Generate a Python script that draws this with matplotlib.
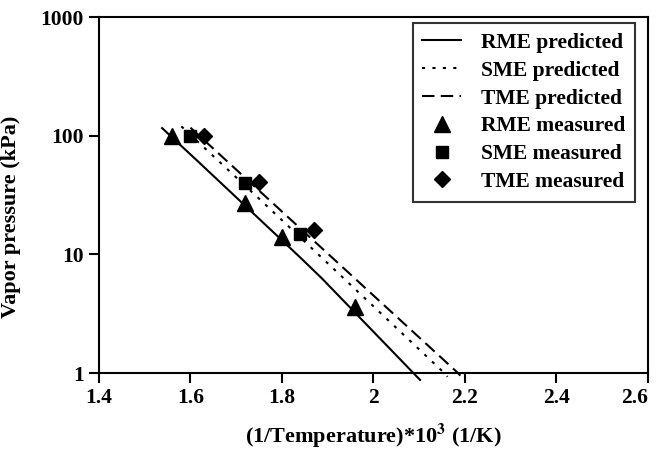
import matplotlib
matplotlib.use("Agg")
import matplotlib.pyplot as plt

plt.rcParams['font.family'] = ['Liberation Serif', 'DejaVu Serif']
plt.rcParams['font.weight'] = 'bold'
plt.rcParams['mathtext.fontset'] = 'stix'

# predicted curves
rme_px = [1.538, 1.614, 1.839, 1.887, 2.102]
rme_py = [116, 62, 9.5, 6.3, 0.875]
sme_px = [1.58, 1.758, 2.155, 2.162]
sme_py = [120, 27.6, 1.0, 0.93]
tme_px = [1.60, 1.702, 2.185, 2.19]
tme_py = [117, 51, 1.0, 0.95]

# measured points
rme_mx = [1.56, 1.72, 1.80, 1.96]
rme_my = [100, 27, 14, 3.6]
sme_mx = [1.60, 1.72, 1.84]
sme_my = [100, 40, 15]
tme_mx = [1.63, 1.75, 1.87]
tme_my = [100, 41, 16]

fig = plt.figure(figsize=(6.57, 4.5), dpi=100)
ax = fig.add_axes([0.1507, 0.171, 0.8353, 0.791])

ax.plot(rme_px, rme_py, color='black', lw=1.5, ls='-', label='RME predicted', clip_on=False)
ax.plot(sme_px, sme_py, color='black', lw=1.5, ls=(0, (1.5, 3.5)), label='SME predicted', clip_on=False)
ax.plot(tme_px, tme_py, color='black', lw=1.5, ls=(0, (6, 3)), label='TME predicted', clip_on=False)
ax.plot(rme_mx, rme_my, 'k^', ms=11, ls='none', label='RME measured')
ax.plot(sme_mx, sme_my, 'ks', ms=8.5, ls='none', label='SME measured')
ax.plot(tme_mx, tme_my, 'kD', ms=8.5, ls='none', label='TME measured')

ax.set_yscale('log')
ax.set_xlim(1.4, 2.6)
ax.set_ylim(1, 1000)
ax.set_xticks([1.4, 1.6, 1.8, 2.0, 2.2, 2.4, 2.6])
ax.set_xticklabels(['1.4', '1.6', '1.8', '2', '2.2', '2.4', '2.6'])
ax.get_xticklabels()[-1].set_horizontalalignment('right')
ax.set_yticks([1, 10, 100, 1000])
ax.set_yticklabels(['1', '10', '100', '1000'])
ax.minorticks_off()
ax.tick_params(axis='both', direction='out', length=7, width=1.5, labelsize=15.5, pad=4)
for s in ax.spines.values():
    s.set_linewidth(1.5)

ax.set_xlabel('(1/Temperature)*10$^{\\mathbf{3}}$ (1/K)', fontsize=16, fontweight='bold', labelpad=10)
ax.set_ylabel('Vapor pressure (kPa)', fontsize=16, fontweight='bold', labelpad=5)
ax.yaxis.set_label_coords(-0.142, 0.44)

leg = ax.legend(loc='upper right', fontsize=15.5, frameon=True, fancybox=False,
                edgecolor='black', handlelength=1.8, borderpad=0.45,
                labelspacing=0.36, borderaxespad=0, handletextpad=0.9,
                bbox_to_anchor=(0.976, 0.983))
leg.get_frame().set_linewidth(1.5)

fig.savefig('out.png', dpi=100)
